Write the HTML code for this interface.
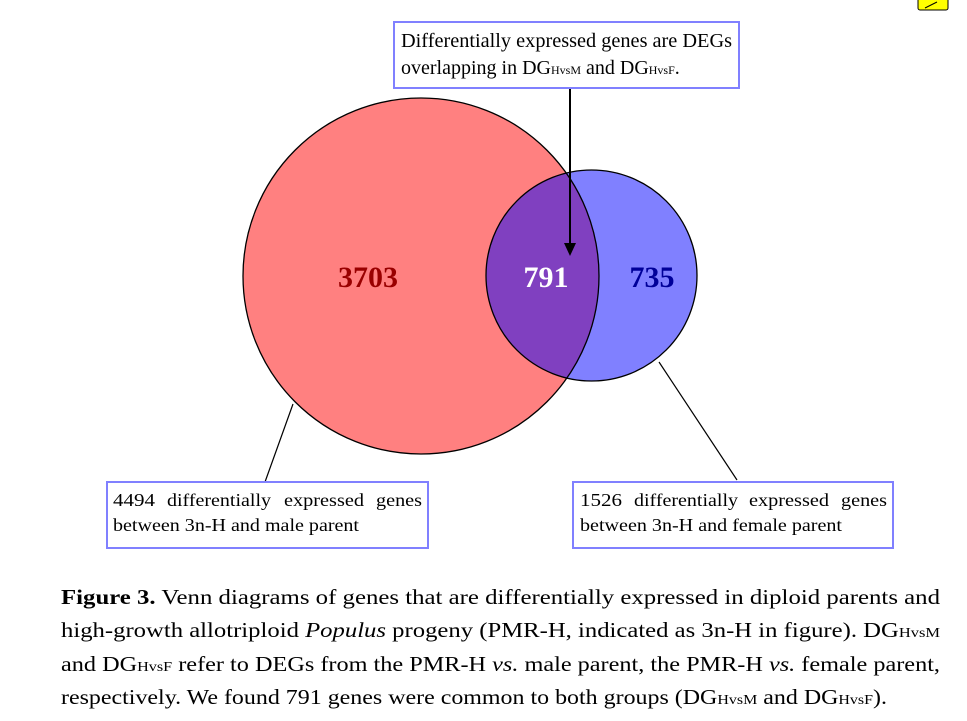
<!DOCTYPE html>
<html><head><meta charset="utf-8"><style>
html,body{margin:0;padding:0;background:#fff;}
svg{display:block;}
text{font-family:"Liberation Serif",serif;fill:#000;}
</style></head><body>
<svg width="967" height="721" viewBox="0 0 967 721" xmlns="http://www.w3.org/2000/svg">
<defs><clipPath id="cb"><circle cx="591.5" cy="275.5" r="105.5"/></clipPath></defs>
<rect x="918" y="-4" width="30" height="14" rx="2" fill="#ffff00" stroke="#000" stroke-width="1"/>
<path d="M925 8 L937 2" stroke="#000" stroke-width="1" fill="none"/>
<circle cx="421" cy="276" r="178" fill="#ff8080"/>
<circle cx="591.5" cy="275.5" r="105.5" fill="#8080ff"/>
<circle cx="421" cy="276" r="178" fill="#8040c0" clip-path="url(#cb)"/>
<circle cx="421" cy="276" r="178" fill="none" stroke="#000" stroke-width="1.3"/>
<circle cx="591.5" cy="275.5" r="105.5" fill="none" stroke="#000" stroke-width="1.3"/>
<text x="368" y="287" text-anchor="middle" font-size="30" font-weight="bold" style="fill:#990000">3703</text>
<text x="546" y="287" text-anchor="middle" font-size="30" font-weight="bold" style="fill:#ffffff">791</text>
<text x="652" y="287" text-anchor="middle" font-size="30" font-weight="bold" style="fill:#000099">735</text>
<line x1="570" y1="88" x2="570" y2="243" stroke="#000" stroke-width="2"/>
<path d="M564 243 L576 243 L570 256 Z" fill="#000"/>
<rect x="394" y="22" width="345" height="66" fill="#fff" stroke="#8080ff" stroke-width="2"/>
<text x="401" y="47" font-size="20" textLength="331" lengthAdjust="spacingAndGlyphs">Differentially expressed genes are DEGs</text>
<text x="401" y="74" font-size="20">overlapping in DG<tspan font-size="12">HvsM</tspan> and DG<tspan font-size="12">HvsF</tspan>.</text>
<line x1="293" y1="404" x2="265" y2="482" stroke="#000" stroke-width="1.2"/>
<line x1="659" y1="362" x2="737" y2="480" stroke="#000" stroke-width="1.2"/>
<rect x="107" y="482" width="321" height="66" fill="#fff" stroke="#8080ff" stroke-width="2"/>
<g font-size="18">
<text x="113" y="506" textLength="42" lengthAdjust="spacingAndGlyphs">4494</text>
<text x="167" y="506" textLength="104" lengthAdjust="spacingAndGlyphs">differentially</text>
<text x="284" y="506" textLength="80" lengthAdjust="spacingAndGlyphs">expressed</text>
<text x="376" y="506" textLength="46" lengthAdjust="spacingAndGlyphs">genes</text>
<text x="113" y="531" textLength="246" lengthAdjust="spacingAndGlyphs">between 3n-H and male parent</text>
</g>
<rect x="573" y="482" width="320" height="66" fill="#fff" stroke="#8080ff" stroke-width="2"/>
<g font-size="18">
<text x="580" y="506" textLength="42" lengthAdjust="spacingAndGlyphs">1526</text>
<text x="634" y="506" textLength="104" lengthAdjust="spacingAndGlyphs">differentially</text>
<text x="749" y="506" textLength="80" lengthAdjust="spacingAndGlyphs">expressed</text>
<text x="841" y="506" textLength="46" lengthAdjust="spacingAndGlyphs">genes</text>
<text x="580" y="531" textLength="262" lengthAdjust="spacingAndGlyphs">between 3n-H and female parent</text>
</g>
<text x="61" y="604" font-size="21" textLength="879" lengthAdjust="spacingAndGlyphs"><tspan font-weight="bold">Figure 3.</tspan> Venn diagrams of genes that are differentially expressed in diploid parents and</text>
<text x="61" y="637" font-size="21" textLength="879" lengthAdjust="spacingAndGlyphs">high-growth allotriploid <tspan font-style="italic">Populus</tspan> progeny (PMR-H, indicated as 3n-H in figure). DG<tspan font-size="14">HvsM</tspan></text>
<text x="61" y="671" font-size="21" textLength="879" lengthAdjust="spacingAndGlyphs">and DG<tspan font-size="14">HvsF</tspan> refer to DEGs from the PMR-H <tspan font-style="italic">vs.</tspan> male parent, the PMR-H <tspan font-style="italic">vs.</tspan> female parent,</text>
<text x="61" y="704" font-size="21" textLength="826" lengthAdjust="spacingAndGlyphs">respectively. We found 791 genes were common to both groups (DG<tspan font-size="14">HvsM</tspan> and DG<tspan font-size="14">HvsF</tspan>).</text>
</svg>
</body></html>
